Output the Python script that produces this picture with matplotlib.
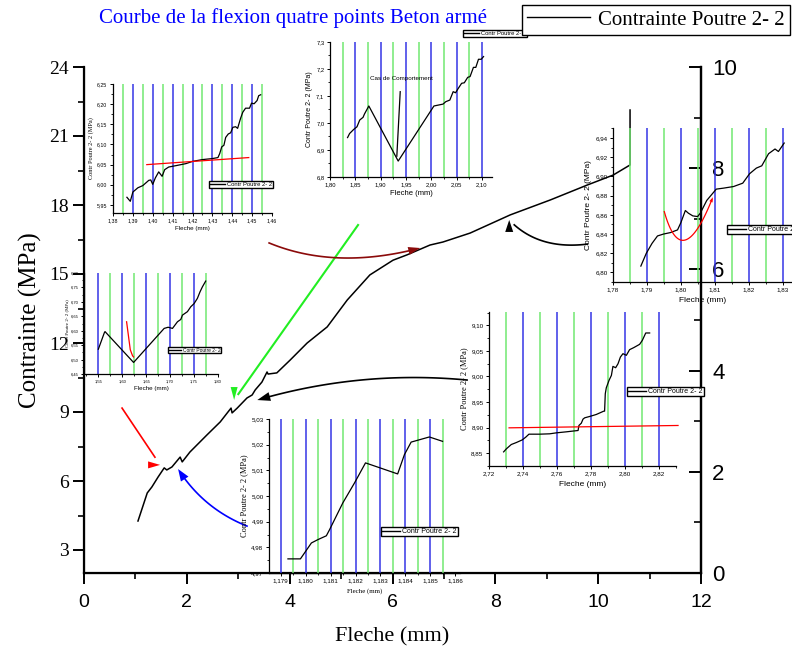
import matplotlib
matplotlib.use("Agg")
import matplotlib.pyplot as plt
import numpy as np
from matplotlib.ticker import MultipleLocator, FuncFormatter, FixedLocator
from matplotlib.lines import Line2D

W, H = 792, 654
SERIF = ["Liberation Serif", "DejaVu Serif"]
SANS = ["Liberation Sans", "DejaVu Sans"]
BLUE = "#3535e6"
GREEN = "#72e872"

# ---------------- main curve: deflection (mm) vs stress (MPa) ----------------
fleche = [1.05, 1.23, 1.32, 1.44, 1.56, 1.61, 1.71, 1.87, 1.91, 2.06, 2.39, 2.65,
          2.80, 2.86, 2.88, 2.98, 3.17, 3.27, 3.33, 3.46, 3.56, 3.58, 3.75, 4.01,
          4.34, 4.73, 5.12, 5.56, 6.01, 6.28, 6.73, 6.98, 7.51, 8.29, 9.07, 9.79,
          10.29, 10.62, 10.62]
contrainte = [4.26, 5.48, 5.74, 6.17, 6.57, 6.48, 6.61, 7.04, 6.83, 7.26, 8.00, 8.57,
              9.00, 9.17, 8.96, 9.17, 9.61, 9.74, 9.96, 10.30, 10.74, 10.65, 10.70, 11.26,
              12.00, 12.70, 13.87, 14.96, 15.60, 15.83, 16.26, 16.39, 16.78, 17.57, 18.22, 18.87,
              19.30, 19.74, 22.13]

# ---------------- zoomed segments ----------------
z1_x = [1.3870, 1.3887, 1.3900, 1.3925, 1.3950, 1.3980, 1.3990, 1.4000, 1.4013, 1.4030,
        1.4047, 1.4060, 1.4080, 1.4117, 1.4167, 1.4200, 1.4250, 1.4300, 1.4328, 1.4337,
        1.4347, 1.4358, 1.4367, 1.4380, 1.4392, 1.4403, 1.4417, 1.4427, 1.4442, 1.4453,
        1.4467, 1.4487, 1.4497, 1.4510, 1.4525, 1.4533, 1.4543]
z1_y = [5.969, 5.959, 5.982, 5.9925, 5.998, 6.011, 6.012, 6.001, 6.017, 6.032,
        6.021, 6.0375, 6.044, 6.0475, 6.0525, 6.058, 6.0625, 6.065, 6.0675, 6.0775,
        6.094, 6.098, 6.1175, 6.126, 6.129, 6.1425, 6.144, 6.140, 6.165, 6.180,
        6.190, 6.190, 6.2025, 6.201, 6.209, 6.221, 6.2233]
z1_fit_x = [1.397, 1.4483]
z1_fit_y = [6.050, 6.0675]

z2_x = [1.8347, 1.8387, 1.8467, 1.8533, 1.8587, 1.8653, 1.8680, 1.8767, 1.9347, 2.0053,
        2.0233, 2.0287, 2.0367, 2.0433, 2.0480, 2.0533, 2.0600, 2.0653, 2.0720, 2.0767,
        2.0833, 2.0880, 2.0933, 2.0987, 2.1033]
z2_y = [6.946, 6.961, 6.976, 6.986, 7.011, 7.021, 7.033, 7.063, 6.859, 7.063,
        7.070, 7.079, 7.085, 7.116, 7.112, 7.128, 7.147, 7.149, 7.169, 7.172,
        7.206, 7.206, 7.236, 7.236, 7.246]

z3_x = [1.7882, 1.7898, 1.7915, 1.7931, 1.7949, 1.7969, 1.7990, 1.8000, 1.8013, 1.8022,
        1.8035, 1.8049, 1.8057, 1.8076, 1.8104, 1.8125, 1.8155, 1.8182, 1.8202, 1.8222,
        1.8238, 1.8258, 1.8277, 1.8287, 1.8304]
z3_y = [6.8066, 6.8199, 6.8303, 6.8380, 6.8400, 6.8415, 6.8443, 6.8520, 6.8645, 6.8617,
        6.8589, 6.8582, 6.8617, 6.8750, 6.8868, 6.8878, 6.8895, 6.8930, 6.9028, 6.9087,
        6.9111, 6.9237, 6.9286, 6.9260, 6.9348]

z4_x = [1.5500, 1.5625, 1.5639, 1.6236, 1.6875, 1.6958, 1.7049, 1.7153, 1.7222, 1.7257,
        1.7361, 1.7431, 1.7500, 1.7569, 1.7625, 1.7674, 1.7743]
z4_y = [6.536, 6.593, 6.597, 6.490, 6.608, 6.612, 6.608, 6.631, 6.639, 6.654,
        6.666, 6.683, 6.694, 6.712, 6.735, 6.752, 6.772]
z4_red_x = [1.6090, 1.6167, 1.6215, 1.6236]
z4_red_y = [6.631, 6.534, 6.513, 6.509]

z5_x = [2.7286, 2.7302, 2.7331, 2.7361, 2.7396, 2.7416, 2.7435, 2.7498, 2.7557, 2.7596,
        2.7655, 2.7724, 2.7729, 2.7743, 2.7753, 2.7763, 2.7792, 2.7831, 2.7875, 2.7880,
        2.7884, 2.7890, 2.7906, 2.7920, 2.7929, 2.7945, 2.7959, 2.7973, 2.7988, 2.8008,
        2.8027, 2.8051, 2.8086, 2.8102, 2.8122, 2.8145]
z5_y = [8.8526, 8.8585, 8.8670, 8.8709, 8.8761, 8.8813, 8.8872, 8.8872, 8.8879, 8.8898,
        8.8918, 8.8944, 8.9042, 8.9087, 8.9166, 8.9192, 8.9218, 8.9257, 8.9322, 8.9322,
        8.9662, 8.9779, 8.9923, 9.0021, 9.0197, 9.0171, 9.0249, 9.0380, 9.0445, 9.0413,
        9.0524, 9.0563, 9.0628, 9.0706, 9.0850, 9.0850]
z5_fit_x = [2.7318, 2.8312]
z5_fit_y = [8.8996, 8.9042]

z6_x = [1.17929, 1.17979, 1.18023, 1.18049, 1.18083, 1.18096, 1.18149, 1.18196, 1.18240,
        1.18369, 1.18396, 1.18423, 1.18496, 1.18549]
z6_y = [4.9755, 4.9755, 4.9817, 4.9830, 4.9845, 4.9869, 4.9973, 5.0051, 5.0129,
        5.0086, 5.0161, 5.0210, 5.0230, 5.0213]

fig = plt.figure(figsize=(W / 100, H / 100), dpi=100)


def px_axes(l, t, r, b):
    return fig.add_axes([l / W, 1 - b / H, (r - l) / W, (b - t) / H])


def comma(dec):
    return FuncFormatter(lambda v, p: f"{v:.{dec}f}".replace(".", ","))


# ---------------- main axes ----------------
ax = px_axes(84, 67, 701, 573)
ax.set_facecolor("none")
ax.set_xlim(0, 12)
ax.set_ylim(2, 24)
ax.spines["top"].set_visible(False)
for s in ("left", "bottom", "right"):
    ax.spines[s].set_linewidth(1.6)
ax.xaxis.set_major_locator(MultipleLocator(2))
ax.xaxis.set_minor_locator(MultipleLocator(1))
ax.yaxis.set_major_locator(MultipleLocator(3))
ax.yaxis.set_minor_locator(MultipleLocator(1.5))
ax.tick_params(axis="x", which="major", direction="out", length=8, width=1.4, pad=7, labelsize=14)
ax.tick_params(axis="x", which="minor", direction="out", length=4, width=1.2)
ax.tick_params(axis="y", which="major", direction="out", length=8, width=1.4, pad=3, labelsize=14)
ax.tick_params(axis="y", which="minor", direction="out", length=4, width=1.2)
for lab in ax.get_xticklabels():
    lab.set_family(SANS)
for lab in ax.get_yticklabels():
    lab.set_family(SERIF)
ax.plot(fleche, contrainte, color="black", lw=1.1, zorder=3)
fig.text(392 / W, 1 - 637 / H, "Fleche (mm)", family=SERIF, fontsize=16, ha="center", va="center")
fig.text(30 / W, 1 - 320 / H, "Contrainte (MPa)", family=SERIF, fontsize=18, rotation=90,
         ha="center", va="center")
fig.text(293 / W, 1 - 18 / H, "Courbe de la flexion quatre points Beton armé", family=SERIF,
         fontsize=15, color="blue", ha="center", va="center")

axr = ax.twinx()
axr.set_ylim(0, 10)
axr.spines["top"].set_visible(False)
axr.spines["right"].set_linewidth(1.6)
axr.yaxis.set_major_locator(MultipleLocator(2))
axr.yaxis.set_minor_locator(MultipleLocator(1))
axr.tick_params(axis="y", which="major", direction="in", length=9, width=1.4, pad=8, labelsize=16)
axr.tick_params(axis="y", which="minor", direction="in", length=5, width=1.2)
for lab in axr.get_yticklabels():
    lab.set_family(SANS)

fig.legend(handles=[Line2D([], [], color="black", lw=1)], labels=["Contrainte Poutre 2- 2"],
           loc="upper right", bbox_to_anchor=(790 / W, 1 - 5 / H), prop=dict(family=SERIF, size=15),
           frameon=True, fancybox=False, edgecolor="black", framealpha=1, borderpad=0.25,
           handlelength=3.0, handletextpad=0.4, borderaxespad=0)


# ---------------- arrows ----------------
def draw_arrow(a, p0, p1, color, through=None, head_len=12, head_w=8, head_dir=None, lw=1.2):
    T = a.transData
    P0 = T.transform(p0)
    P2 = T.transform(p1)
    if through is not None:
        M = T.transform(through)
        C = 2 * M - 0.5 * (P0 + P2)
    else:
        C = 0.5 * (P0 + P2)
    t = np.linspace(0, 1, 60)[:, None]
    curve = (1 - t) ** 2 * P0 + 2 * (1 - t) * t * C + t ** 2 * P2
    d = np.array(head_dir, float) if head_dir is not None else P2 - curve[-4]
    d = d / np.hypot(*d)
    n = np.array([-d[1], d[0]])
    base = P2 - d * head_len
    tri = np.array([P2, base + n * head_w / 2, base - n * head_w / 2])
    keep = curve[np.dot(curve - P2, d) < -head_len * 0.4]
    inv = T.inverted()
    c = inv.transform(keep)
    h = inv.transform(tri)
    a.plot(c[:, 0], c[:, 1], color=color, lw=lw, clip_on=False, zorder=4)
    a.fill(h[:, 0], h[:, 1], color=color, clip_on=False, zorder=4, lw=0)


draw_arrow(ax, (0.74, 9.17), (1.48, 6.70), "red", head_dir=(1, 0), head_len=12, head_w=7)
draw_arrow(ax, (3.17, 4.04), (1.83, 6.52), "blue", through=(2.41, 5.04), head_len=12, head_w=9)
draw_arrow(ax, (5.33, 17.13), (2.92, 9.52), "#22ee22", head_dir=(0, -1), head_len=13, head_w=7, lw=1.5)
draw_arrow(ax, (3.60, 16.35), (6.54, 16.13), "#8b0a0a", through=(4.98, 15.70), head_len=12, head_w=8)
draw_arrow(ax, (9.79, 16.30), (8.27, 17.35), "black", through=(8.93, 16.43), head_dir=(0, 1),
           head_len=12, head_w=8)
draw_arrow(ax, (7.45, 10.39), (3.37, 9.52), "black", through=(5.39, 10.39), head_len=13, head_w=9)


# ---------------- insets ----------------
def inset(box, xlim, ylim, xmaj, xmin, ymaj, ymin, xdec, ydec, blues, greens,
          fs=4.5, tickfam=SANS):
    a = px_axes(*box)
    a.set_facecolor("none")
    a.set_xlim(*xlim)
    a.set_ylim(*ylim)
    a.spines["top"].set_visible(False)
    a.spines["right"].set_visible(False)
    for s in ("left", "bottom"):
        a.spines[s].set_linewidth(0.9)
    a.xaxis.set_major_locator(MultipleLocator(xmaj))
    a.xaxis.set_minor_locator(MultipleLocator(xmin))
    a.yaxis.set_major_locator(MultipleLocator(ymaj))
    a.yaxis.set_minor_locator(MultipleLocator(ymin))
    a.xaxis.set_major_formatter(comma(xdec))
    a.yaxis.set_major_formatter(comma(ydec))
    a.tick_params(which="major", direction="out", length=2.5, width=0.7, labelsize=fs, pad=1.5)
    a.tick_params(which="minor", direction="out", length=1.3, width=0.6)
    for lab in a.get_xticklabels() + a.get_yticklabels():
        lab.set_family(tickfam)
    for xv in blues:
        a.axvline(xv, color=BLUE, lw=1.1, zorder=1)
    for xv in greens:
        a.axvline(xv, color=GREEN, lw=1.1, zorder=1)
    return a


def inset_legend(a, l, t, fs):
    a.legend(handles=[Line2D([], [], color="black", lw=1.0)], labels=["Contr Poutre 2- 2"],
             loc="upper left", bbox_to_anchor=(l / W, 1 - t / H), bbox_transform=fig.transFigure,
             prop=dict(family=SANS, size=fs), frameon=True, fancybox=False, edgecolor="black",
             framealpha=1, borderpad=0.15, handlelength=2.6, handletextpad=0.3, borderaxespad=0)


# inset 1
a1 = inset((113, 84, 272, 213), (1.38, 1.46), (5.93, 6.25), 0.01, 0.005, 0.05, 0.025, 2, 2,
           [1.39, 1.40, 1.41, 1.42, 1.43, 1.44, 1.45],
           [1.385, 1.395, 1.405, 1.415, 1.425, 1.435, 1.445, 1.455], fs=3.8)
a1.plot(z1_x, z1_y, color="black", lw=0.9, zorder=3)
a1.plot(z1_fit_x, z1_fit_y, color="red", lw=0.9, zorder=3)
a1.set_ylabel("Contr Poutre 2- 2 (MPa)", family=SERIF, fontsize=4.5, labelpad=2)
a1.set_xlabel("Fleche (mm)", family=SANS, fontsize=4.5, labelpad=2)
inset_legend(a1, 209, 181, 4.2)

# inset 2
a2 = inset((330, 42, 492, 177), (1.80, 2.12), (6.8, 7.3), 0.05, 0.025, 0.1, 0.05, 2, 1,
           [1.85, 1.90, 1.95, 2.00, 2.05, 2.10],
           [1.825, 1.875, 1.925, 1.975, 2.025, 2.075], fs=4.2)
a2.plot(z2_x, z2_y, color="black", lw=0.9, zorder=3)
a2.plot([1.932, 1.9387], [6.877, 7.116], color="black", lw=0.9, zorder=3)
a2.text(1.94, 7.165, "Cas de Comportement", family=SANS, fontsize=4.5, ha="center", va="center")
a2.set_ylabel("Contr Poutre 2- 2 (MPa)", family=SANS, fontsize=5, labelpad=2)
a2.set_xlabel("Fleche (mm)", family=SANS, fontsize=5.5, labelpad=2)
inset_legend(a2, 463, 30, 4.2)

# inset 3
a3 = inset((613, 128, 792, 282), (1.78, 1.8327), (6.79, 6.9505), 0.01, 0.005, 0.02, 0.01, 2, 2,
           [1.79, 1.80, 1.81, 1.82, 1.83],
           [1.785, 1.795, 1.805, 1.815, 1.825], fs=4.5)
a3.plot(z3_x, z3_y, color="black", lw=0.9, zorder=3)
draw_arrow(a3, (1.7951, 6.8634), (1.8094, 6.8784), "red", through=(1.8013, 6.8338),
           head_len=5, head_w=3.5, lw=0.9)
a3.set_ylabel("Contr Poutre 2- 2 (MPa)", family=SANS, fontsize=6, labelpad=2)
a3.set_xlabel("Fleche (mm)", family=SANS, fontsize=6, labelpad=3)
inset_legend(a3, 727, 225, 5)

# inset 4
a4 = inset((84, 273, 218, 374), (1.52, 1.80), (6.45, 6.80), 0.05, 0.025, 0.05, 0.025, 2, 2,
           [1.55, 1.60, 1.65, 1.70, 1.75],
           [1.575, 1.625, 1.675, 1.725, 1.775], fs=3.0)
a4.plot(z4_x, z4_y, color="black", lw=0.9, zorder=3)
a4.plot(z4_red_x, z4_red_y, color="red", lw=0.9, zorder=3)
a4.set_ylabel("Contr Poutre 2- 2 (MPa)", family=SERIF, fontsize=3.5, labelpad=1)
a4.set_xlabel("Fleche (mm)", family=SANS, fontsize=4.5, labelpad=2)
inset_legend(a4, 168, 347, 3.5)

# inset 5
a5 = inset((489, 312, 676, 466), (2.72, 2.83), (8.825, 9.126), 0.02, 0.01, 0.05, 0.025, 2, 2,
           [2.74, 2.76, 2.78, 2.80, 2.82],
           [2.73, 2.75, 2.77, 2.79, 2.81], fs=4.5)
a5.plot(z5_x, z5_y, color="black", lw=0.9, zorder=3)
a5.plot(z5_fit_x, z5_fit_y, color="red", lw=0.9, zorder=3, clip_on=False)
a5.set_ylabel("Contr Poutre 2- 2 (MPa)", family=SERIF, fontsize=6, labelpad=2)
a5.set_xlabel("Fleche (mm)", family=SANS, fontsize=6, labelpad=3)
inset_legend(a5, 627, 387, 5)

# inset 6
a6 = inset((269, 419, 460, 573), (1.17853, 1.18619), (4.97, 5.03), 0.001, 0.0005, 0.01, 0.005, 3, 2,
           [1.179, 1.180, 1.181, 1.182, 1.183, 1.184, 1.185],
           [1.1795, 1.1805, 1.1815, 1.1825, 1.1835, 1.1845, 1.1855], fs=4.5)
a6.plot(z6_x, z6_y, color="black", lw=0.9, zorder=3)
a6.set_ylabel("Contr Poutre 2- 2 (MPa)", family=SERIF, fontsize=6, labelpad=2)
a6.set_xlabel("Fleche (mm)", family=SERIF, fontsize=5, labelpad=3)
inset_legend(a6, 381, 527, 5)

fig.savefig("out.png", dpi=100)
